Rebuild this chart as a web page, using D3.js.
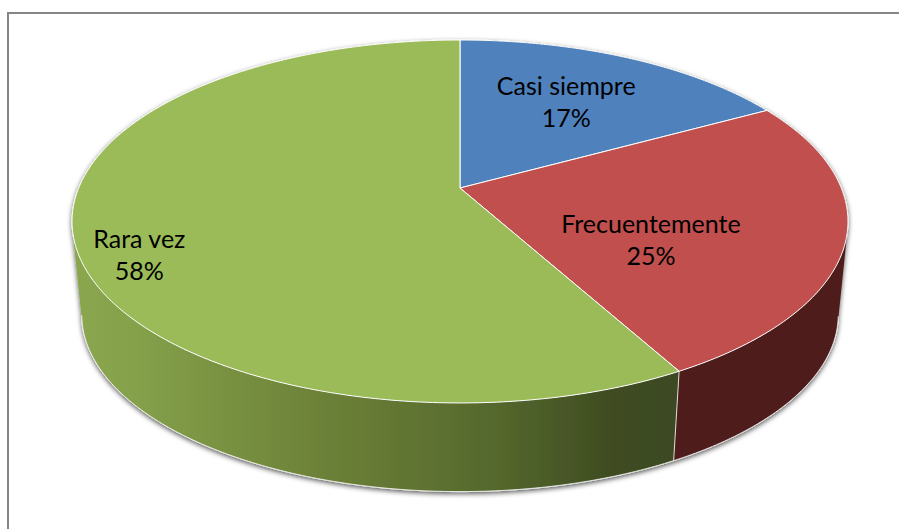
<!DOCTYPE html>
<html>
<head>
<meta charset="utf-8">
<script src="https://cdn.jsdelivr.net/npm/d3@7"></script>
<style>
    html, body { margin: 0; padding: 0; background: #fff; overflow: hidden; }
    svg { display: block; }
</style>
</head>
<body>
<div id="chart"></div>
<script>
// Data
var categories = ["Casi siempre", "Frecuentemente", "Rara vez"];
var percents = [17, 25, 58];
var topColors = ["#4f81bd", "#c0504d", "#9bbb59"];
var wallColors = ["#2a4565", "#4f1f1e", "url(#greenWall)"];

// Label placement, relative to the projected middle of each slice
var labelRadius = [0.52, 0.5, 0.84];
var labelShift = [[13, -13], [3, 28], [2, 30]];

var width = 899, height = 529;

// Perspective of the pie: k bends the near half towards the viewer
var cx = 460, cy = 188, rx = 381.3, ry = 175.3, k = 0.1845;
var wallDrop = 94, wallScale = 0.975;
var midY = cy + (ry / (1 - k) - ry / (1 + k)) / 2;

function project(angle, r, drop, scale) {
    var u = r * Math.sin(angle), v = -r * Math.cos(angle);
    var w = 1 - k * v;
    return [cx + scale * rx * u / w, cy + drop + scale * ry * v / w];
}

function angles(d) {
    var n = Math.ceil((d.endAngle - d.startAngle) * 80);
    return d3.range(n + 1).map(function(i) {
        return d.startAngle + (d.endAngle - d.startAngle) * i / n;
    });
}

function edge(d, drop, scale) {
    return angles(d).map(function(a) { return project(a, 1, drop, scale); });
}

// The wall is a strip of small quads, so that it also fills the silhouette.
// All quads get the same winding or the overlapping ones cancel out.
function wallPath(d) {
    var a = edge(d, 0, 1), b = edge(d, wallDrop, wallScale);
    return d3.range(a.length - 1).map(function(i) {
        var quad = [a[i], a[i + 1], b[i + 1], b[i]];
        if (d3.polygonArea(quad) < 0) quad.reverse();
        return line(quad) + "Z";
    }).join("");
}

// Only the near part of the lower rim and the slice borders get a white line
function rimPath(d) {
    var a = edge(d, 0, 1), b = edge(d, wallDrop, wallScale);
    var near = b.filter(function(p, i) { return a[i][1] >= midY; });
    var start = line([a[0], b[0]]);
    return near.length ? start + line(near) : start;
}

var line = d3.line();
var slices = d3.pie().sort(null)(percents);

var svg = d3.select("#chart").append("svg")
    .attr("width", width)
    .attr("height", height);

var defs = svg.append("defs");

var grad = defs.append("linearGradient")
    .attr("id", "greenWall")
    .attr("gradientUnits", "userSpaceOnUse")
    .attr("x1", 80).attr("x2", 672).attr("y1", 0).attr("y2", 0);
grad.append("stop").attr("offset", 0).attr("stop-color", "#8aa64e");
grad.append("stop").attr("offset", 0.1).attr("stop-color", "#84a04a");
grad.append("stop").attr("offset", 0.4).attr("stop-color", "#6d8238");
grad.append("stop").attr("offset", 0.7).attr("stop-color", "#55682d");
grad.append("stop").attr("offset", 0.9).attr("stop-color", "#3f4c21");
grad.append("stop").attr("offset", 1).attr("stop-color", "#3d4a20");

var shadow = defs.append("filter")
    .attr("id", "pieShadow")
    .attr("x", "-5%").attr("y", "-5%")
    .attr("width", "110%").attr("height", "115%");
shadow.append("feDropShadow")
    .attr("dx", 0).attr("dy", 2)
    .attr("stdDeviation", 2.5)
    .attr("flood-color", "#000")
    .attr("flood-opacity", 0.65);

// Chart frame, right and bottom sides run off the picture
svg.append("rect")
    .attr("x", 8).attr("y", 13)
    .attr("width", 1000).attr("height", 1000)
    .attr("fill", "#fff")
    .attr("stroke", "#868686")
    .attr("stroke-width", 2);

var pie = svg.append("g").attr("filter", "url(#pieShadow)");

// Side walls
pie.selectAll("path.wall")
    .data(slices)
    .join("path")
    .attr("class", "wall")
    .attr("d", wallPath)
    .attr("fill", function(d, i) { return wallColors[i]; });

pie.selectAll("path.rim")
    .data(slices)
    .join("path")
    .attr("class", "rim")
    .attr("d", rimPath)
    .attr("fill", "none")
    .attr("stroke", "#fff")
    .attr("stroke-width", 0.8);

// Top face
pie.selectAll("path.top")
    .data(slices)
    .join("path")
    .attr("class", "top")
    .attr("d", function(d) {
        return line([[cx, cy]].concat(edge(d, 0, 1))) + "Z";
    })
    .attr("fill", function(d, i) { return topColors[i]; })
    .attr("stroke", "#fff")
    .attr("stroke-width", 1);

// Labels
var labels = svg.selectAll("text.label")
    .data(slices)
    .join("text")
    .attr("class", "label")
    .attr("text-anchor", "middle")
    .attr("font-family", "Lato, sans-serif")
    .attr("font-size", "25px")
    .attr("fill", "#000")
    .attr("transform", function(d, i) {
        var mid = (d.startAngle + d.endAngle) / 2;
        var p = project(mid, labelRadius[i], 0, 1);
        return `translate(${p[0] + labelShift[i][0]},${p[1] + labelShift[i][1]})`;
    });

labels.append("tspan")
    .attr("x", 0).attr("y", -8)
    .text(function(d, i) { return categories[i]; });

labels.append("tspan")
    .attr("x", 0).attr("y", 24)
    .text(function(d, i) { return percents[i] + "%"; });
</script>
</body>
</html>
